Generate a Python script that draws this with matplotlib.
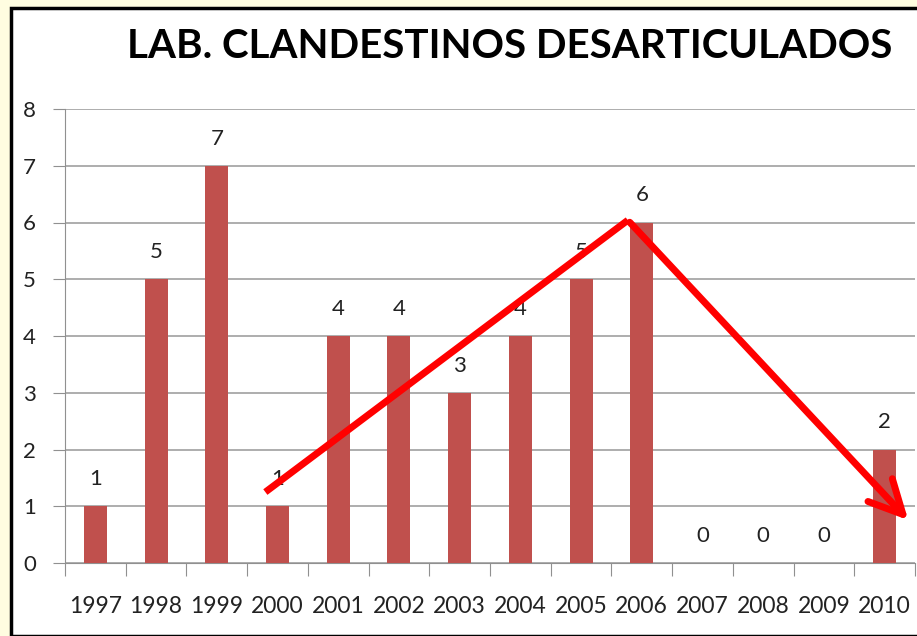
import matplotlib.pyplot as plt
from matplotlib.patches import Rectangle

years = ['1997', '1998', '1999', '2000', '2001', '2002', '2003',
         '2004', '2005', '2006', '2007', '2008', '2009', '2010']
labs = [1, 5, 7, 1, 4, 4, 3, 4, 5, 6, 0, 0, 0, 2]

# trend arrow points (category index, value)
trend_x = [2.8, 8.77, 13.42]
trend_y = [1.25, 6.04, 0.72]

plt.rcParams['font.family'] = ['Lato', 'DejaVu Sans']

fig = plt.figure(figsize=(9.17, 6.36), dpi=100, facecolor='#fffde0')
fig.patches.append(Rectangle((11 / 917, 0), 1, 1 - 8 / 636, transform=fig.transFigure,
                             facecolor='white', edgecolor='black', linewidth=2.5, zorder=-1))

ax = fig.add_axes([65 / 917, (636 - 563) / 636, (915 - 65) / 917, (563 - 109) / 636])
ax.set_facecolor('white')
x = range(len(years))
ax.bar(x, labs, width=0.38, color='#c0504d', zorder=3)
for i, v in enumerate(labs):
    ax.text(i, v + 0.3, str(v), ha='center', va='bottom', fontsize=16, color='#222222', zorder=4)

ax.set_xlim(-0.5, len(years) - 0.5)
ax.set_ylim(0, 8)
ax.set_yticks(range(9))
ax.set_xticks([i - 0.5 for i in range(len(years) + 1)], minor=False)
ax.set_xticklabels([])
ax.set_xticks(list(x), minor=True)
ax.set_xticklabels(years, minor=True, fontsize=16.5, color='#222222')
ax.tick_params(axis='x', which='minor', length=0, pad=24)
ax.tick_params(axis='x', which='major', length=9, color='#909090', direction='out')
ax.tick_params(axis='y', length=9, color='#909090', labelsize=16, labelcolor='#222222', pad=12)
ax.grid(axis='y', color='#a0a0a0', linewidth=1.2, zorder=0)
for s in ['top', 'right']:
    ax.spines[s].set_visible(False)
for s in ['left', 'bottom']:
    ax.spines[s].set_color('#909090')

ax.plot(trend_x[:2], trend_y[:2], color='red', linewidth=5, zorder=5, solid_capstyle='butt')
ax.annotate('', xy=(trend_x[2], trend_y[2]), xytext=(trend_x[1], trend_y[1]),
            arrowprops=dict(arrowstyle='->,head_length=2.4,head_width=1.2', color='red', lw=5),
            zorder=5, annotation_clip=False)

fig.text(510 / 917, 1 - 46 / 636, 'LAB. CLANDESTINOS DESARTICULADOS', ha='center', va='center',
         fontsize=29, fontweight='bold', color='black')

fig.savefig('out.png', dpi=100, facecolor=fig.get_facecolor())
